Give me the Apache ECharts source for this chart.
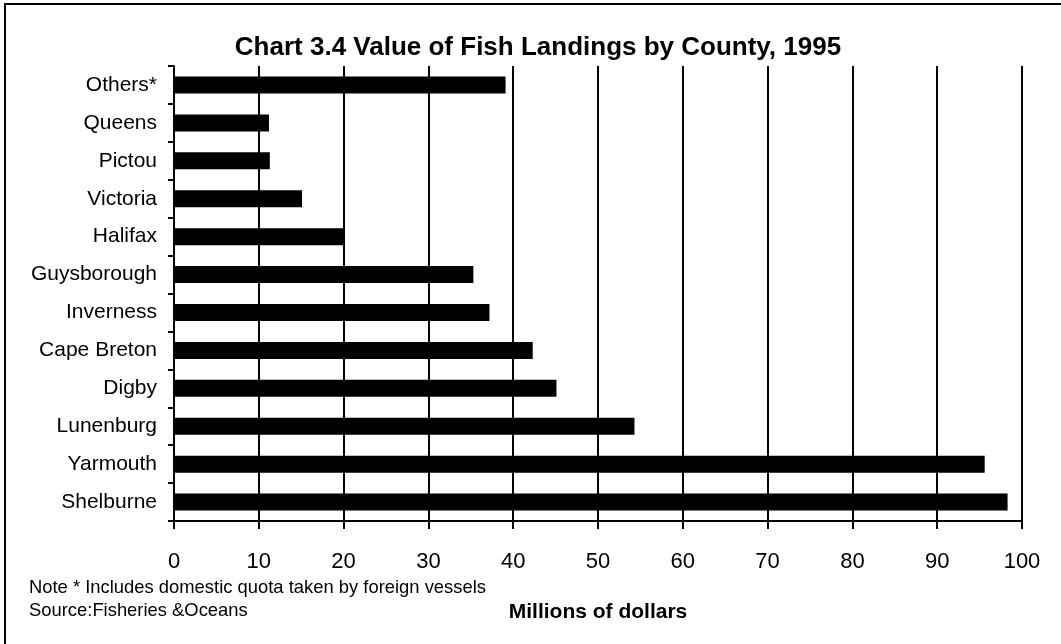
<!DOCTYPE html>
<html>
<head>
<meta charset="utf-8">
<script src="https://cdn.jsdelivr.net/npm/echarts@6/dist/echarts.min.js"></script>
<style>
  html, body { margin: 0; padding: 0; background: #fff; }
  #chart { width: 1061px; height: 644px; }
</style>
</head>
<body>
<div id="chart"></div>
<script>
// Counties, listed top to bottom as drawn
const counties = ['Others*', 'Queens', 'Pictou', 'Victoria', 'Halifax', 'Guysborough',
  'Inverness', 'Cape Breton', 'Digby', 'Lunenburg', 'Yarmouth', 'Shelburne'];
// Value of landings, millions of dollars
const landings = [39.1, 11.2, 11.3, 15.1, 20.0, 35.3, 37.2, 42.3, 45.1, 54.3, 95.6, 98.3];

const titleText = 'Chart 3.4 Value of Fish Landings by County, 1995';
const axisName = 'Millions of dollars';
const noteText = 'Note * Includes domestic quota taken by foreign vessels';
const sourceText = 'Source:Fisheries &Oceans';

const FONT = '"Liberation Sans", Arial, sans-serif';

const chart = echarts.init(document.getElementById('chart'), null, { renderer: 'canvas' });
chart.setOption({
  backgroundColor: '#ffffff',
  animation: false,
  grid: { left: 174, right: 39, top: 66, bottom: 123, containLabel: false },
  xAxis: {
    type: 'value',
    min: 0,
    max: 100,
    interval: 10,
    axisLine: { show: true, lineStyle: { color: '#000', width: 2 } },
    axisTick: { show: true, inside: false, length: 8, lineStyle: { color: '#000', width: 2 } },
    axisLabel: { color: '#000', fontFamily: FONT, fontSize: 22, margin: 30 },
    splitLine: { show: true, lineStyle: { color: '#000', width: 2 } }
  },
  yAxis: {
    type: 'category',
    data: counties,
    inverse: true,
    axisLine: { show: true, lineStyle: { color: '#000', width: 2 } },
    axisTick: { show: true, inside: false, length: 6, lineStyle: { color: '#000', width: 2 } },
    axisLabel: { color: '#000', fontFamily: FONT, fontSize: 21, margin: 17 },
    splitLine: { show: false }
  },
  series: [{
    type: 'bar',
    data: landings,
    barWidth: 17,
    itemStyle: { color: '#000' }
  }],
  graphic: [
    {
      type: 'rect',
      silent: true,
      shape: { x: 5, y: 4, width: 1100, height: 700 },
      style: { fill: 'none', stroke: '#000', lineWidth: 2 }
    },
    {
      type: 'text',
      x: 538, y: 48,
      style: {
        text: titleText, fill: '#000', font: 'bold 26px ' + FONT,
        align: 'center', verticalAlign: 'middle'
      }
    },
    {
      type: 'text',
      x: 29, y: 588,
      style: {
        text: noteText, fill: '#000', font: '18.4px ' + FONT,
        align: 'left', verticalAlign: 'middle'
      }
    },
    {
      type: 'text',
      x: 29, y: 611,
      style: {
        text: sourceText, fill: '#000', font: '18.4px ' + FONT,
        align: 'left', verticalAlign: 'middle'
      }
    },
    {
      type: 'text',
      x: 598, y: 612,
      style: {
        text: axisName, fill: '#000', font: 'bold 21px ' + FONT,
        align: 'center', verticalAlign: 'middle'
      }
    }
  ]
});
</script>
</body>
</html>
